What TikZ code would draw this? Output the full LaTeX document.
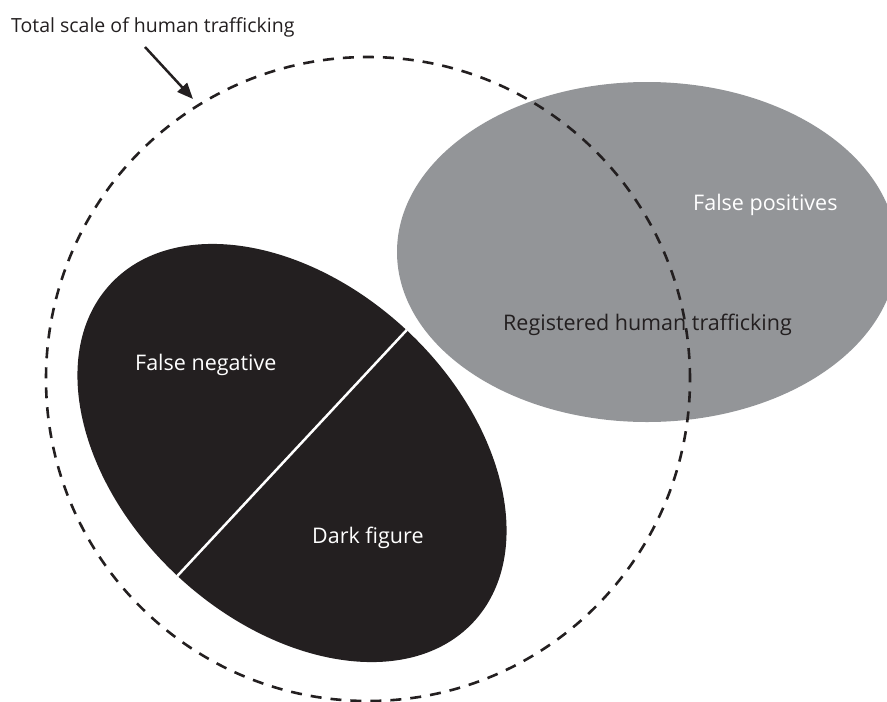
\documentclass[tikz,border=0pt]{standalone}
\usepackage{fontspec}
\setmainfont{Open Sans}
\usetikzlibrary{shapes.geometric,arrows.meta}
\definecolor{inkdark}{HTML}{231F20}
\definecolor{midgray}{HTML}{939598}
\tikzset{
  lbl/.style={font=\fontsize{21.5}{26}\selectfont, inner sep=0pt, anchor=base west},
  darklbl/.style={lbl, text=inkdark},
  whitelbl/.style={lbl, text=white},
  titlelbl/.style={lbl, text=inkdark, font=\fontsize{19.5}{24}\selectfont},
}
\begin{document}
\begin{tikzpicture}[x=1pt,y=-1pt]
\useasboundingbox (0,0) rectangle (887,702);
\begin{scope}
\clip (0,0) rectangle (887,702);
% registered (gray) ellipse
\node[ellipse, fill=midgray, draw=none, inner sep=0pt,
      minimum width=500pt, minimum height=340pt] (reg) at (647,252) {};
% black ellipse
\node[ellipse, fill=inkdark, draw=none, inner sep=0pt,
      minimum width=496pt, minimum height=336pt, rotate=-43] (dark) at (292,453) {};
\draw[white, line width=2.5pt] (dark.north) -- (dark.south);
% dashed total circle
\node[circle, draw=inkdark, line width=2.6pt, dash pattern=on 11pt off 9pt,
      inner sep=0pt, minimum size=644pt] (total) at (368,379) {};
\end{scope}
% labels
\node[titlelbl] (title) at (11,32) {Total scale of human trafficking};
\node[whitelbl] (fneg) at (135,370) {False negative};
\node[whitelbl] (dfig) at (312,543) {Dark figure};
\node[darklbl] (regl) at (503,330) {Registered human trafficking};
\node[whitelbl] (fpos) at (693,210) {False positives};
% arrow
\coordinate (arrS) at (145,47);
\coordinate (arrT) at (193,99);
\draw[inkdark, line width=2.5pt, -{Triangle[length=16pt,width=13pt]}] (arrS) -- (arrT);
\end{tikzpicture}
\end{document}
